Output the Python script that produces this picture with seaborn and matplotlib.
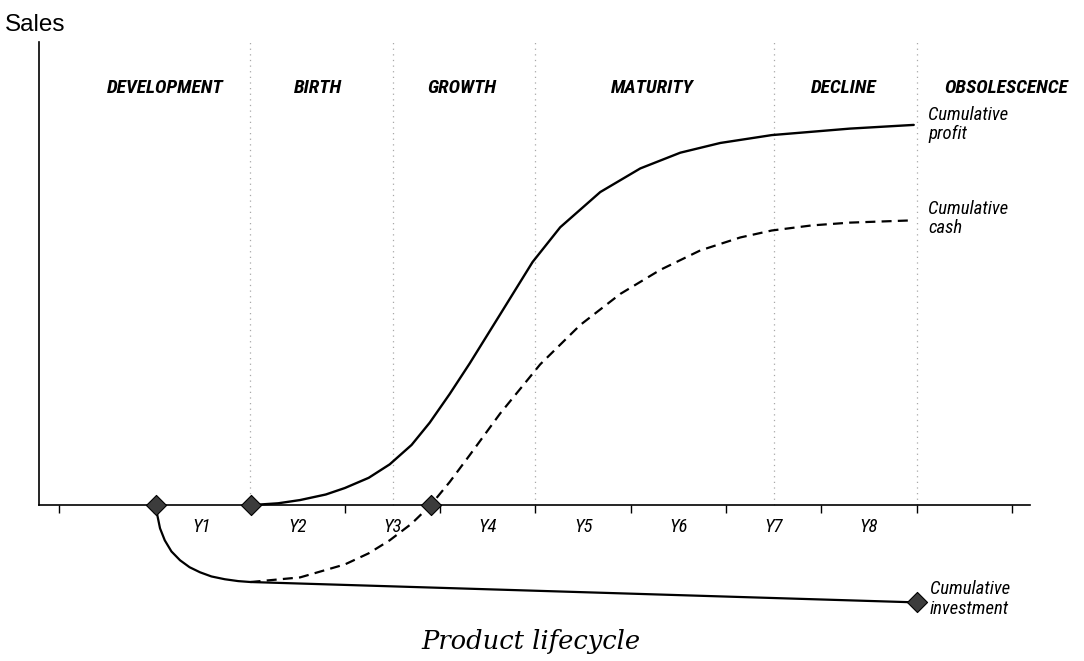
import pandas as pd
import seaborn as sns
import matplotlib as mpl
from matplotlib import pyplot as plt
from matplotlib import font_manager

# x in years (tick k = start of year k+1), y in % of the sales axis height
profit_x = [2.01, 2.3, 2.53, 2.8, 3.0, 3.25, 3.47, 3.7, 3.89, 4.1, 4.31, 4.63, 4.97,
            5.26, 5.68, 6.10, 6.52, 6.94, 7.48, 8.30, 8.97]
profit_y = [0.0, 0.4, 1.1, 2.3, 3.7, 5.9, 8.8, 13.0, 17.8, 24.0, 30.6, 41.2, 52.5,
            60.0, 67.6, 72.7, 76.1, 78.2, 79.9, 81.3, 82.1]

cash_x = [2.01, 2.53, 3.0, 3.25, 3.47, 3.7, 3.90, 4.1, 4.31, 4.63, 5.05, 5.47, 5.89,
          6.31, 6.73, 7.15, 7.48, 7.9, 8.30, 8.97]
cash_y = [-16.6, -15.6, -12.8, -10.4, -7.6, -4.0, 0.0, 5.0, 10.8, 19.8, 30.4, 38.9, 45.6,
          50.8, 55.0, 57.8, 59.3, 60.4, 61.0, 61.5]

invest_x = [1.02, 1.03, 1.06, 1.11, 1.18, 1.27, 1.37, 1.48, 1.60, 1.74, 1.88, 2.01, 9.00]
invest_y = [0.0, -2.0, -5.0, -7.6, -10.0, -11.9, -13.4, -14.5, -15.4, -16.0, -16.4, -16.6, -21.0]

milestone_x = [1.02, 2.01, 3.90, 9.00]
milestone_y = [0.0, 0.0, 0.0, -21.0]

phases = ["DEVELOPMENT", "BIRTH", "GROWTH", "MATURITY", "DECLINE", "OBSOLESCENCE"]
phase_label_x = [1.12, 2.72, 4.23, 6.23, 8.23, 9.94]
phase_bounds = [2.0, 3.5, 5.0, 7.5, 9.0]
year_labels = ["Y1", "Y2", "Y3", "Y4", "Y5", "Y6", "Y7", "Y8"]

sns.set_style("white")
installed = {f.name for f in font_manager.fontManager.ttflist}
sans, scale = "Liberation Sans", 0.9
for cand in ["Liberation Sans Narrow", "Roboto Condensed", "Open Sans Condensed",
             "DejaVu Sans Condensed"]:
    if cand in installed:
        sans, scale = cand, 1.0
        break
plt.rcParams["font.family"] = ["Liberation Sans", "DejaVu Sans"]
for key in ["text.color", "axes.labelcolor", "xtick.color", "ytick.color"]:
    plt.rcParams[key] = "black"

fig = plt.figure(figsize=(10.84, 6.61), dpi=100)
# axes laid out so y=0 sits on the x axis and y=100 at the top of the sales axis
ax = fig.add_axes([39 / 1084, 41 / 661, 991 / 1084, 578 / 661])
ax.set_xlim(-0.21, 10.19)
ax.set_ylim(-24.8, 100)

profit = pd.DataFrame({"x": profit_x, "y": profit_y})
cash = pd.DataFrame({"x": cash_x, "y": cash_y})
invest = pd.DataFrame({"x": invest_x, "y": invest_y})

ax.vlines(phase_bounds, 0, 100, colors="#a8a8a8", linestyles=(0, (1, 3.5)), linewidth=0.9)

sns.lineplot(profit, x="x", y="y", color="black", lw=1.7, estimator=None, sort=False, ax=ax)
sns.lineplot(cash, x="x", y="y", color="black", lw=1.6, estimator=None, sort=False,
             dashes=False, ax=ax, linestyle=(0, (4.5, 2.8)))
sns.lineplot(invest, x="x", y="y", color="black", lw=1.6, estimator=None, sort=False, ax=ax)
sns.scatterplot(x=milestone_x, y=milestone_y, marker="D", s=105, color="#3c3c3c",
                edgecolor="black", linewidth=0.8, zorder=5, clip_on=False, ax=ax)

for name, px in zip(phases, phase_label_x):
    ax.text(px, 90.1, name, ha="center", va="center", family=sans,
            fontsize=14 * scale, fontweight="bold", fontstyle="italic")

end_labels = [("Cumulative\nprofit", 9.12, 86.2), ("Cumulative\ncash", 9.12, 65.9),
              ("Cumulative\ninvestment", 9.14, -16.2)]
for txt, px, py in end_labels:
    ax.text(px, py, txt, ha="left", va="top", family=sans, fontsize=13.5 * scale,
            fontstyle="italic", linespacing=1.1)

ax.spines[["top", "right"]].set_visible(False)
ax.spines["bottom"].set_position(("data", 0))
ax.spines["left"].set_bounds(0, 100)
for s in ["left", "bottom"]:
    ax.spines[s].set_color("black")
    ax.spines[s].set_linewidth(1.2)

ax.set_yticks([])
ax.set_xticks(range(11))
ax.set_xticklabels([])
ax.tick_params(axis="x", which="major", direction="out", length=6, width=1, color="black",
               bottom=True)
ax.set_xticks([k + 1.5 for k in range(len(year_labels))], minor=True)
ax.set_xticklabels(year_labels, minor=True, family=sans, fontsize=13.5 * scale,
                   fontstyle="italic")
ax.tick_params(axis="x", which="minor", length=0, pad=9)
ax.set_xlabel("")
ax.set_ylabel("")

fig.text(5 / 1084, 1 - 25 / 661, "Sales", ha="left", va="center", fontsize=17.5)
fig.text(531 / 1084, 1 - 641 / 661, "Product lifecycle", ha="center", va="center",
         family="DejaVu Serif", fontstyle="italic", fontsize=18.5)

plt.savefig("out.png", dpi=100)
